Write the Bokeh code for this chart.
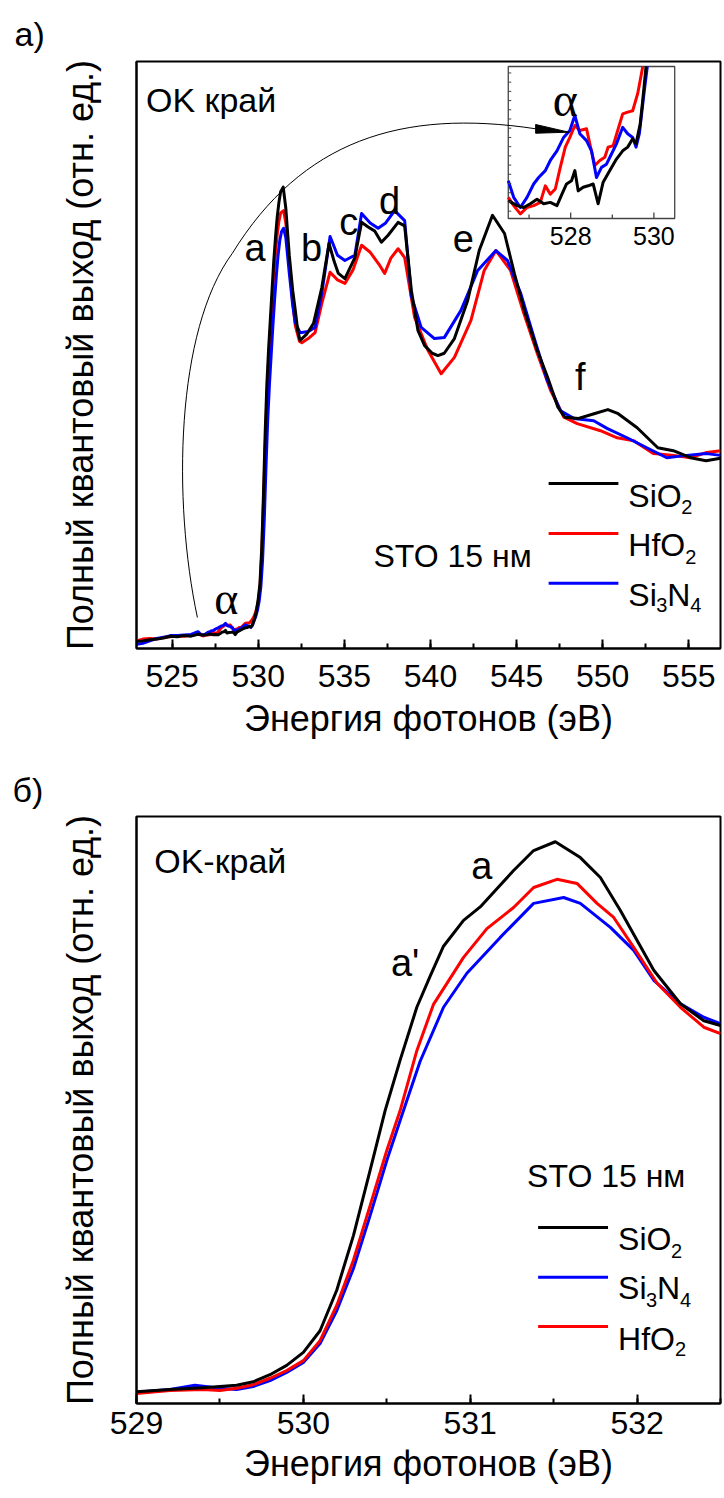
import numpy as np
from bokeh.plotting import figure
from bokeh.layouts import column
from bokeh.models import Range1d, SingleIntervalTicker, FixedTicker, Label, Title
from bokeh.core.properties import value
from bokeh.embed import file_html
from bokeh.resources import INLINE

FONT = "Liberation Sans"
SERIF = "Liberation Serif"
BLACK, RED, BLUE = "#000000", "#ff0000", "#0000ff"

# ---------------- panel a: O K-edge TEY, 15 nm STO ----------------
sio2_a_ev = [522.93, 523.3, 523.7, 524.1, 524.5, 524.9, 525.3, 525.7, 526.1, 526.5,
             526.71, 526.87, 527.03, 527.19, 527.35, 527.51, 527.67, 527.79, 527.9, 528.02,
             528.1, 528.18, 528.3, 528.42, 528.54, 528.66, 528.78, 528.94, 529.1, 529.25,
             529.37, 529.49, 529.57, 529.67, 529.73, 529.81, 529.9, 530.0, 530.1, 530.2,
             530.3, 530.4, 530.5, 530.6, 530.7, 530.8, 530.9, 531.0, 531.1, 531.2,
             531.3, 531.45, 531.6, 531.8, 532.0, 532.15, 532.3, 532.43, 532.8, 533.21,
             533.69, 534.11, 534.4, 534.65, 535.03, 535.61, 536.0, 536.38, 536.77, 537.15,
             537.54, 538.12, 538.5, 538.89, 539.27, 539.66, 540.1, 540.43, 540.8, 541.39,
             542.16, 542.83, 543.6, 544.3, 544.87, 545.45, 546.2, 546.8, 547.4, 547.8,
             548.6, 549.5, 550.3, 550.9, 552.0, 553.2, 554.1, 555.1, 556.0, 556.84]
sio2_a_int = [1.2, 1.3, 1.5, 1.6, 1.8, 2.1, 2.0, 2.2, 2.1, 2.43,
              2.32, 2.28, 2.36, 2.46, 2.36, 2.39, 2.32, 2.57, 2.79, 2.86,
              3.08, 2.64, 2.72, 2.75, 2.79, 2.36, 2.83, 3.08, 3.33, 3.51,
              3.59, 3.77, 3.66, 4.09, 4.60, 5.33, 6.5, 8.5, 11.1, 17.0,
              26.0, 36.6, 45.0, 51.0, 56.0, 61.0, 66.0, 70.0, 73.5, 76.0,
              77.8, 78.6, 75.0, 67.0, 61.0, 57.6, 54.0, 52.5, 53.5, 55.4,
              61.5, 69.0, 66.0, 63.9, 63.0, 66.6, 72.6, 71.8, 71.1, 69.2,
              70.4, 72.6, 72.0, 61.0, 54.2, 51.6, 50.3, 49.9, 50.3, 52.8,
              59.3, 67.8, 73.8, 70.7, 63.9, 57.6, 50.8, 46.2, 41.1, 39.4,
              39.2, 40.0, 40.7, 40.0, 37.6, 34.2, 33.7, 32.5, 32.0, 32.4]

hfo2_a_ev = [522.93, 523.3, 523.7, 524.1, 524.5, 524.9, 525.3, 525.7, 526.1, 526.5,
             526.63, 526.79, 526.95, 527.11, 527.27, 527.39, 527.51, 527.63, 527.75, 527.87,
             527.98, 528.1, 528.22, 528.38, 528.46, 528.58, 528.7, 528.82, 528.9, 529.02,
             529.13, 529.25, 529.37, 529.49, 529.61, 529.73, 529.85, 530.0, 530.1, 530.2,
             530.3, 530.4, 530.5, 530.6, 530.7, 530.8, 530.9, 531.0, 531.1, 531.2,
             531.3, 531.47, 531.6, 531.8, 532.0, 532.15, 532.4, 532.53, 532.9, 533.3,
             533.69, 534.17, 534.6, 535.03, 535.5, 536.0, 536.5, 537.0, 537.34, 537.7,
             538.12, 538.5, 539.08, 539.85, 540.62, 541.39, 542.35, 543.12, 543.8, 544.65,
             545.42, 546.2, 546.97, 547.75, 548.52, 549.87, 550.84, 551.8, 552.96, 554.12,
             555.08, 556.05, 556.84]
hfo2_a_int = [1.3, 1.6, 1.7, 1.6, 1.9, 2.0, 2.2, 2.1, 2.3, 2.50,
              2.32, 2.14, 2.28, 2.32, 2.39, 2.75, 2.57, 2.68, 3.15, 3.59,
              3.80, 4.06, 3.95, 3.99, 3.66, 3.19, 3.30, 3.37, 3.59, 3.62,
              3.95, 4.31, 4.35, 4.38, 4.75, 5.33, 6.2, 8.0, 10.5, 16.0,
              24.5, 34.0, 42.5, 49.0, 54.0, 59.0, 63.5, 67.5, 70.5, 72.8,
              74.2, 74.6, 72.5, 65.5, 59.0, 55.0, 52.3, 52.1, 52.8, 53.8,
              58.8, 64.1, 62.8, 62.2, 64.5, 68.7, 67.5, 65.5, 63.9, 66.5,
              68.1, 66.6, 56.4, 50.8, 46.8, 49.6, 55.9, 64.4, 67.8, 64.4,
              57.1, 50.3, 44.0, 39.4, 38.3, 37.1, 35.9, 35.4, 33.2, 32.9,
              32.5, 33.4, 33.7]

si3n4_a_ev = [522.93, 523.3, 523.7, 524.1, 524.5, 524.9, 525.3, 525.7, 526.1, 526.5,
              526.63, 526.79, 526.95, 527.11, 527.23, 527.39, 527.51, 527.67, 527.83, 527.98,
              528.1, 528.22, 528.38, 528.5, 528.62, 528.74, 528.86, 528.98, 529.1, 529.25,
              529.37, 529.49, 529.57, 529.65, 529.77, 529.85, 529.95, 530.05, 530.15, 530.25,
              530.35, 530.45, 530.55, 530.65, 530.75, 530.85, 530.95, 531.05, 531.15, 531.25,
              531.35, 531.47, 531.6, 531.8, 532.0, 532.15, 532.43, 532.9, 533.3, 533.69,
              534.17, 534.6, 535.03, 535.61, 536.0, 536.5, 536.96, 537.4, 537.92, 538.5,
              538.89, 539.46, 540.23, 540.81, 541.77, 542.74, 543.8, 544.47, 545.24, 546.01,
              546.78, 547.55, 548.32, 549.48, 550.25, 551.41, 552.56, 553.72, 554.87, 556.03,
              556.84]
si3n4_a_int = [0.7, 0.9, 1.3, 1.7, 1.9, 2.2, 2.2, 2.3, 2.4, 2.86,
               2.50, 2.28, 2.50, 2.79, 2.93, 3.08, 3.30, 3.51, 3.80, 3.95,
               4.28, 3.88, 3.73, 3.51, 2.93, 3.15, 3.22, 3.44, 3.66, 4.02,
               3.88, 3.80, 3.59, 3.88, 4.82, 5.40, 6.5, 8.0, 10.5, 15.0,
               22.0, 31.0, 39.0, 45.0, 50.0, 55.0, 59.5, 63.5, 67.0, 69.5,
               71.0, 71.6, 70.0, 64.0, 58.5, 55.5, 53.8, 54.0, 54.7, 60.5,
               70.2, 67.0, 66.1, 67.0, 74.1, 72.5, 71.6, 72.5, 74.6, 72.9,
               60.0, 54.7, 52.8, 53.0, 57.6, 64.4, 67.8, 66.1, 60.5, 53.0,
               45.7, 40.5, 39.2, 38.8, 37.5, 35.9, 34.2, 32.5, 32.9, 33.2,
               32.9]

# ---------------- panel b: leading edge of the O K-edge ----------------
sio2_b_ev = [529.0, 529.2, 529.4, 529.6, 529.7, 529.8, 529.9, 530.0, 530.1, 530.2,
             530.3, 530.4, 530.49, 530.58, 530.68, 530.76, 530.84, 530.96, 531.06, 531.16,
             531.26, 531.38, 531.51, 531.66, 531.78, 531.9, 532.1, 532.26, 532.4, 532.5]
sio2_b_int = [2.0, 2.4, 2.7, 3.1, 3.7, 4.9, 6.5, 8.7, 12.4, 19.3,
              28.6, 39.7, 49.9, 58.5, 67.5, 72.8, 77.9, 82.3, 84.6, 87.7,
              90.8, 94.2, 95.7, 93.0, 89.6, 84.0, 73.8, 68.1, 65.2, 64.4]

hfo2_b_ev = [529.0, 529.2, 529.4, 529.5, 529.6, 529.7, 529.8, 529.9, 530.0, 530.1,
             530.2, 530.3, 530.4, 530.5, 530.58, 530.68, 530.78, 530.96, 531.1, 531.26,
             531.38, 531.52, 531.64, 531.76, 531.86, 531.98, 532.12, 532.26, 532.4, 532.5]
hfo2_b_int = [1.7, 2.2, 2.4, 2.2, 2.6, 3.2, 4.3, 5.6, 7.3, 10.7,
              16.7, 24.4, 33.7, 43.1, 49.9, 60.1, 68.0, 76.0, 80.9, 84.5,
              87.9, 89.3, 88.6, 85.2, 82.8, 77.7, 71.6, 67.5, 64.1, 63.0]

si3n4_b_ev = [529.0, 529.2, 529.35, 529.5, 529.6, 529.7, 529.8, 529.9, 530.0, 530.1,
              530.2, 530.3, 530.4, 530.5, 530.6, 530.7, 530.84, 530.98, 531.18, 531.38,
              531.56, 531.66, 531.84, 531.98, 532.1, 532.26, 532.4, 532.5]
si3n4_b_int = [1.9, 2.4, 3.1, 2.6, 2.4, 2.9, 3.9, 5.3, 7.0, 10.2,
               15.8, 23.0, 32.0, 41.4, 49.9, 58.3, 67.5, 73.3, 79.4, 85.2,
               86.2, 85.2, 81.1, 77.2, 72.1, 68.1, 65.8, 64.7]

# axis extents and tick spacing
A_EV_RANGE = (522.93, 556.84)
B_EV_RANGE = (529.0, 532.5)
INT_RANGE = (0, 100)
A_TICK_STEP = 5
B_TICK_STEP = 1

# inset of panel a (pre-edge feature alpha)
INSET_EV = (526.5, 530.5)
INSET_INT = (2.04, 5.34)
INSET_BOX = (0.6366, 0.9216, 0.7325, 0.9915)   # left, right, bottom, top (fraction of frame)
INSET_X_TICKS = [527, 528, 529, 530]
INSET_X_LABELED = [528, 530]
INSET_Y_TICKS = [2.2, 2.4, 2.6, 2.8, 3.0, 3.2, 3.4, 3.6, 3.8, 4.0, 4.2, 4.4, 4.6, 4.8, 5.0, 5.2]

X_TITLE = "Энергия фотонов (эВ)"
Y_TITLE = "Полный квантовый выход (отн. ед.)"
W = 724
FRAME = 587


def styled_panel(tag, x_range, height, left, right, top, bottom, step,
                 tag_standoff, label_standoff, title_standoff):
    p = figure(width=W, height=height, x_range=Range1d(*x_range), y_range=Range1d(*INT_RANGE),
               output_backend="svg", toolbar_location=None,
               min_border_left=left, min_border_right=right,
               min_border_top=top, min_border_bottom=bottom)
    # panel tag, shifted left from the frame edge to the page margin
    p.title = Title(text=tag, align="left", offset=12 - left, standoff=tag_standoff,
                    vertical_align="top",
                    text_font=FONT, text_font_size="34px", text_font_style="normal",
                    text_color="black")
    p.grid.visible = False
    p.background_fill_color = "white"
    p.border_fill_color = "white"
    p.outline_line_color = "black"
    p.outline_line_width = 2
    p.outline_line_alpha = 1

    xa = p.xaxis[0]
    xa.ticker = SingleIntervalTicker(interval=step, num_minor_ticks=2)
    xa.axis_line_width = 2
    xa.major_tick_in, xa.major_tick_out = 9, 0
    xa.minor_tick_in, xa.minor_tick_out = 5, 0
    xa.major_tick_line_width = 2
    xa.minor_tick_line_width = 2
    xa.major_label_text_font = FONT
    xa.major_label_text_font_size = "32px"
    xa.major_label_text_color = "black"
    xa.major_label_standoff = label_standoff
    xa.axis_label = X_TITLE
    xa.axis_label_text_font = FONT
    xa.axis_label_text_font_size = "36px"
    xa.axis_label_text_font_style = "normal"
    xa.axis_label_text_color = "black"
    xa.axis_label_standoff = title_standoff

    ya = p.yaxis[0]
    ya.ticker = FixedTicker(ticks=[])
    ya.axis_line_width = 2
    ya.major_label_text_font_size = "0px"
    ya.axis_label = Y_TITLE
    ya.axis_label_text_font = FONT
    ya.axis_label_text_font_size = "36px"
    ya.axis_label_text_font_style = "normal"
    ya.axis_label_text_color = "black"
    ya.axis_label_standoff = 36
    return p


def put(p, x, y, text, size, align="left", font=FONT, dx=0, **kw):
    p.add_layout(Label(x=x, y=y, text=text, text_font=font, text_font_size=f"{size}px",
                       text_align=align, text_baseline="alphabetic", x_offset=dx,
                       text_color="black", **kw))


def inset_part(ev, val):
    ev = np.asarray(ev, dtype=float)
    val = np.asarray(val, dtype=float)
    keep = (ev >= INSET_EV[0]) & (ev <= INSET_EV[1])
    ev, val = ev[keep], val[keep]
    above = np.nonzero(val > INSET_INT[1])[0]
    if above.size:
        k = above[0]
        t = (INSET_INT[1] - val[k - 1]) / (val[k] - val[k - 1])
        xe = ev[k - 1] + t * (ev[k] - ev[k - 1])
        ev = np.append(ev[:k], xe)
        val = np.append(val[:k], INSET_INT[1])
    return ev, val


# ======================= panel a =======================
pa = styled_panel("a)", A_EV_RANGE, 760, 134, 3, 61, 112, A_TICK_STEP, 14, 16, 8)

for ev, val, col in [(hfo2_a_ev, hfo2_a_int, RED),
                     (si3n4_a_ev, si3n4_a_int, BLUE),
                     (sio2_a_ev, sio2_a_int, BLACK)]:
    pa.line(ev, val, line_color=col, line_width=3, line_join="round")

# inset: its own ranges mapped onto a sub-box of the frame
fx0, fx1, fy0, fy1 = INSET_BOX
span_x = (INSET_EV[1] - INSET_EV[0]) / (fx1 - fx0)
span_y = (INSET_INT[1] - INSET_INT[0]) / (fy1 - fy0)
pa.extra_x_ranges = {"ix": Range1d(INSET_EV[0] - fx0 * span_x, INSET_EV[0] + (1 - fx0) * span_x)}
pa.extra_y_ranges = {"iy": Range1d(INSET_INT[0] - fy0 * span_y, INSET_INT[0] + (1 - fy0) * span_y)}
ux = span_x / FRAME   # inset x units per pixel
uy = span_y / FRAME   # inset y units per pixel
rn = dict(x_range_name="ix", y_range_name="iy")

pa.quad(left=INSET_EV[0], right=INSET_EV[1], bottom=INSET_INT[0], top=INSET_INT[1],
        fill_color="white", line_color="#444444", line_width=1.3, **rn)
for ev, val, col in [(hfo2_a_ev, hfo2_a_int, RED),
                     (si3n4_a_ev, si3n4_a_int, BLUE),
                     (sio2_a_ev, sio2_a_int, BLACK)]:
    xe, ye = inset_part(ev, val)
    pa.line(xe, ye, line_color=col, line_width=3, line_join="round", **rn)

tick_len = [6 if t in INSET_X_LABELED else 4 for t in INSET_X_TICKS]
pa.segment(x0=INSET_X_TICKS, x1=INSET_X_TICKS,
           y0=[INSET_INT[0]] * len(INSET_X_TICKS),
           y1=[INSET_INT[0] + L * uy for L in tick_len],
           line_color="#444444", line_width=1.3, **rn)
pa.segment(x0=[INSET_EV[0]] * len(INSET_Y_TICKS), x1=[INSET_EV[0] + 3 * ux] * len(INSET_Y_TICKS),
           y0=INSET_Y_TICKS, y1=INSET_Y_TICKS, line_color="#444444", line_width=1, **rn)
pa.text(x=INSET_X_LABELED, y=[INSET_INT[0]] * len(INSET_X_LABELED),
        text=[str(t) for t in INSET_X_LABELED], text_font=value(FONT), text_font_size="25px",
        text_align="center", text_baseline="top", y_offset=8, text_color="black", **rn)

# curved pointer from the alpha feature to the inset
pa.bezier(x0=[526.466, 528.487], y0=[5.28, 67.29],
          cx0=[525.021, 532.531], cy0=[25.21, 86.54],
          cx1=[525.2, 538.308], cy1=[54.17, 91.99],
          x1=[528.487, 546.107], y1=[67.29, 88.54],
          line_color="black", line_width=1)
pa.patch(x=[546.107, 546.107, 548.03], y=[89.27, 87.78, 87.96], fill_color="black", line_color="black")

# labels
put(pa, 523.48, 93.5, "OK край", 34)
put(pa, 529.82, 68.3, "a", 38, "center")
put(pa, 533.1, 68.3, "b", 38, "center")
put(pa, 535.25, 72.6, "c", 38, "center")
put(pa, 537.62, 76.3, "d", 38, "center")
put(pa, 541.9, 69.8, "e", 38, "center")
put(pa, 548.7, 46.2, "f", 38, "center")
put(pa, 528.14, 8.5, "α", 46, "center", font=SERIF)
put(pa, 547.83, 93.5, "α", 48, "center", font=SERIF)
put(pa, 536.69, 15.84, "STO 15 нм", 32)

# legend
pa.segment(x0=[546.86] * 3, x1=[550.91] * 3, y0=[28.1, 19.6, 11.1], y1=[28.1, 19.6, 11.1],
           line_color=[BLACK, RED, BLUE], line_width=3)
lx = 551.49
put(pa, lx, 26.06, "SiO", 32)
put(pa, lx, 24.07, "2", 20, dx=53)
put(pa, lx, 17.55, "HfO", 32)
put(pa, lx, 15.55, "2", 20, dx=57)
put(pa, lx, 9.03, "Si", 32)
put(pa, lx, 7.33, "3", 20, dx=28)
put(pa, lx, 9.03, "N", 32, dx=39)
put(pa, lx, 7.33, "4", 20, dx=62)

# ======================= panel b =======================
pb = styled_panel("б)", B_EV_RANGE, 738, 136, 4, 56, 95, B_TICK_STEP, 12, 8, 6)
for ev, val, col in [(si3n4_b_ev, si3n4_b_int, BLUE),
                     (hfo2_b_ev, hfo2_b_int, RED),
                     (sio2_b_ev, sio2_b_int, BLACK)]:
    pb.line(ev, val, line_color=col, line_width=3, line_join="round")

put(pb, 529.106, 92.5, "OK-край", 34)
put(pb, 531.07, 91.65, "a", 38, "center")
put(pb, 530.61, 75.1, "a'", 38, "center")
put(pb, 531.341, 38.84, "STO 15 нм", 32)

pb.segment(x0=[531.407] * 3, x1=[531.826] * 3, y0=[30.0, 21.5, 13.1], y1=[30.0, 21.5, 13.1],
           line_color=[BLACK, BLUE, RED], line_width=3)
bx = 531.886
put(pb, bx, 28.1, "SiO", 32)
put(pb, bx, 26.06, "2", 20, dx=53)
put(pb, bx, 19.6, "Si", 32)
put(pb, bx, 17.7, "3", 20, dx=28)
put(pb, bx, 19.6, "N", 32, dx=39)
put(pb, bx, 17.7, "4", 20, dx=62)
put(pb, bx, 11.07, "HfO", 32)
put(pb, bx, 9.2, "2", 20, dx=57)

layout = column(pa, pb, spacing=0)
open("out.html", "w").write(file_html(layout, INLINE))
